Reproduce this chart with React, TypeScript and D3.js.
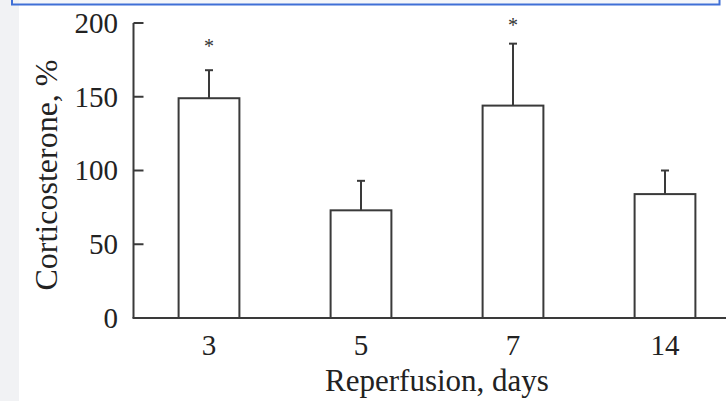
import React from 'react';
import * as d3 from 'd3';

// Corticosterone after reperfusion, % of control
const days = ['3', '5', '7', '14'];
const means = [149, 73, 144, 84];
const upperErr = [19, 20, 42, 16];
const starLevel: (number | null)[] = [186, null, 200, null];
const yTicks = [0, 50, 100, 150, 200];

const W = 726;
const H = 401;
const ink = '#3a3a3a';
const font = '"Liberation Serif", "Times New Roman", serif';

export default function App() {
  const x = d3.scaleBand<string>()
    .domain(days)
    .range([133, 741])
    .paddingInner(0.6)
    .paddingOuter(0.3);

  const y = d3.scaleLinear().domain([0, 200]).range([318, 23]);

  const bw = x.bandwidth();
  const axisX = 133.5;
  const x0 = x(days[0]) || 0;
  const x1 = (x(days[days.length - 1]) || 0) + bw;

  return (
    <svg
      width={W}
      height={H}
      style={{ position: 'absolute', left: 0, top: 0, background: '#fff' }}
    >
      {/* page chrome: grey gutter and blue frame edge */}
      <rect x={0} y={0} width={19} height={H} fill="#f1f2f4" />
      <rect x={19} y={0} width={700} height={4} fill="#f4f6fa" />
      <path d="M12,0 V4.5 H719.5 V0" fill="none" stroke="#3f6fd6" strokeWidth={2} />

      {/* bars */}
      {days.map((d, i) => {
        const bx = x(d) || 0;
        const cx = bx + bw / 2;
        const top = y(means[i]);
        const errTop = y(means[i] + upperErr[i]);
        const star = starLevel[i];
        return (
          <g key={d}>
            <rect
              x={bx}
              y={top}
              width={bw}
              height={y(0) - top}
              fill="#fff"
              stroke={ink}
              strokeWidth={2}
            />
            <line x1={cx} x2={cx} y1={top} y2={errTop} stroke={ink} strokeWidth={2} />
            <line x1={cx - 4} x2={cx + 4} y1={errTop} y2={errTop} stroke={ink} strokeWidth={2} />
            {star !== null && (
              <text
                x={cx}
                y={y(star) + 9}
                textAnchor="middle"
                fontFamily={font}
                fontSize={20}
                fill="#333"
              >
                *
              </text>
            )}
          </g>
        );
      })}

      {/* y axis */}
      <line x1={axisX} x2={axisX} y1={y(200)} y2={y(0)} stroke={ink} strokeWidth={2} />
      {yTicks.map(t => (
        <g key={t}>
          <line x1={axisX} x2={axisX + 10} y1={y(t)} y2={y(t)} stroke={ink} strokeWidth={2} />
          <text
            x={118}
            y={y(t)}
            dy="0.34em"
            textAnchor="end"
            fontFamily={font}
            fontSize={29}
            fill="#222"
          >
            {t}
          </text>
        </g>
      ))}

      {/* x axis */}
      <line x1={axisX - 1} x2={W} y1={y(0)} y2={y(0)} stroke={ink} strokeWidth={2} />
      {days.map(d => (
        <text
          key={d}
          x={(x(d) || 0) + bw / 2}
          y={355}
          textAnchor="middle"
          fontFamily={font}
          fontSize={29}
          fill="#222"
        >
          {d}
        </text>
      ))}

      <text
        x={(x0 + x1) / 2}
        y={391}
        textAnchor="middle"
        fontFamily={font}
        fontSize={31}
        fill="#222"
      >
        Reperfusion, days
      </text>
      <text
        transform={`translate(57,175) rotate(-90)`}
        textAnchor="middle"
        fontFamily={font}
        fontSize={32}
        fill="#222"
      >
        Corticosterone, %
      </text>
    </svg>
  );
}
